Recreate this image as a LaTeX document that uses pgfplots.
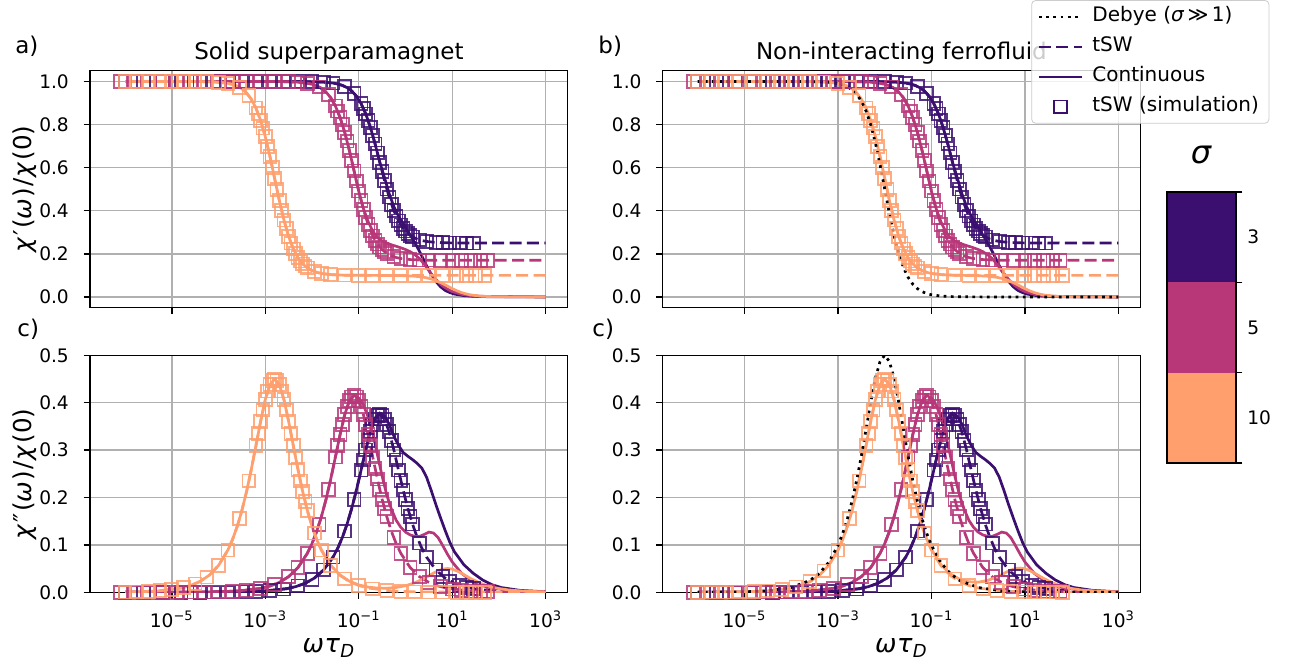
\documentclass[border=0pt]{standalone}
\usepackage{fontspec}
\setmainfont{DejaVu Sans}[ItalicFont={DejaVu Sans Oblique}]
\usepackage{pgfplots}
\usepackage{pgfplotstable}
\pgfplotsset{compat=1.18}
\definecolor{cA}{HTML}{3B0F70}
\definecolor{cB}{HTML}{B73779}
\definecolor{cC}{HTML}{FE9F6D}
\definecolor{gridc}{HTML}{B0B0B0}
\definecolor{legc}{HTML}{CCCCCC}

\pgfplotstableread{
L re im
-6.00 1.0000 0.0000
-4.55 1.0000 0.0001
-3.55 1.0000 0.0008
-3.05 1.0000 0.0024
-2.55 0.9999 0.0075
-2.35 0.9998 0.0119
-2.15 0.9995 0.0188
-1.95 0.9988 0.0299
-1.75 0.9970 0.0472
-1.55 0.9926 0.0743
-1.45 0.9883 0.0929
-1.35 0.9816 0.1160
-1.25 0.9713 0.1439
-1.15 0.9555 0.1772
-1.05 0.9318 0.2156
-0.95 0.8974 0.2577
-0.85 0.8494 0.3005
-0.75 0.7865 0.3386
-0.65 0.7098 0.3652
-0.55 0.6250 0.3750
-0.45 0.5402 0.3652
-0.35 0.4635 0.3386
-0.25 0.4006 0.3005
-0.15 0.3526 0.2577
-0.05 0.3182 0.2156
0.05 0.2946 0.1772
0.15 0.2787 0.1439
0.25 0.2684 0.1160
0.35 0.2617 0.0929
0.45 0.2574 0.0743
0.65 0.2530 0.0472
0.85 0.2512 0.0299
1.05 0.2505 0.0188
1.25 0.2502 0.0119
1.45 0.2501 0.0075
1.95 0.2500 0.0024
2.45 0.2500 0.0008
3.00 0.2500 0.0002
}\tswP
\pgfplotstableread{
L re im
-6.00 1.0000 0.0000
-4.55 1.0000 0.0001
-3.55 1.0000 0.0008
-3.05 1.0000 0.0024
-2.55 0.9999 0.0075
-2.35 0.9998 0.0119
-2.15 0.9995 0.0188
-1.95 0.9988 0.0299
-1.75 0.9970 0.0472
-1.55 0.9926 0.0743
-1.45 0.9883 0.0929
-1.35 0.9816 0.1160
-1.25 0.9713 0.1439
-1.15 0.9555 0.1772
-1.05 0.9318 0.2156
-0.95 0.8974 0.2577
-0.85 0.8494 0.3005
-0.75 0.7865 0.3400
-0.65 0.7098 0.3680
-0.55 0.6250 0.3780
-0.45 0.5550 0.3720
-0.35 0.4800 0.3550
-0.25 0.4200 0.3300
-0.15 0.3750 0.3100
-0.05 0.3400 0.2950
0.05 0.3050 0.2870
0.15 0.2700 0.2800
0.25 0.2320 0.2720
0.35 0.1900 0.2620
0.45 0.1450 0.2430
0.55 0.1050 0.2150
0.65 0.0720 0.1850
0.75 0.0470 0.1570
0.85 0.0300 0.1300
0.95 0.0200 0.1050
1.05 0.0130 0.0850
1.25 0.0060 0.0580
1.45 0.0030 0.0400
1.65 0.0015 0.0260
1.85 0.0008 0.0160
2.05 0.0005 0.0100
2.45 0.0002 0.0040
3.00 0.0000 0.0010
}\contP
\pgfplotstableread{
L re im
-6.00 1.0000 0.0000
-5.60 1.0000 0.0000
-5.20 1.0000 0.0000
-4.80 1.0000 0.0000
-4.40 1.0000 0.0001
-4.10 1.0000 0.0002
-3.80 1.0000 0.0004
-3.50 1.0000 0.0008
-3.20 1.0000 0.0017
-2.90 1.0000 0.0034
-2.60 0.9999 0.0067
-2.30 0.9998 0.0133
-2.00 0.9991 0.0266
-1.75 0.9970 0.0472
-1.55 0.9926 0.0743
-1.30 0.9771 0.1293
-1.10 0.9448 0.1958
-0.95 0.8974 0.2577
-0.90 0.8753 0.2793
-0.85 0.8494 0.3005
-0.80 0.8198 0.3204
-0.75 0.7865 0.3386
-0.70 0.7496 0.3539
-0.65 0.7098 0.3652
-0.60 0.6680 0.3725
-0.55 0.6250 0.3750
-0.50 0.5820 0.3725
-0.45 0.5402 0.3652
-0.40 0.5004 0.3539
-0.35 0.4635 0.3386
-0.30 0.4302 0.3204
-0.25 0.4006 0.3005
-0.20 0.3747 0.2793
-0.15 0.3526 0.2577
-0.10 0.3339 0.2363
-0.05 0.3182 0.2156
0.00 0.3052 0.1958
0.05 0.2946 0.1772
0.10 0.2858 0.1599
0.15 0.2787 0.1439
0.30 0.2647 0.1039
0.45 0.2574 0.0743
0.65 0.2530 0.0472
0.80 0.2514 0.0335
0.95 0.2508 0.0237
1.15 0.2503 0.0149
1.30 0.2502 0.0106
1.45 0.2501 0.0075
}\sqP
\pgfplotstableread{
L re im
-6.0 1.0000 0.0000
-5.1 1.0000 0.0001
-4.1 1.0000 0.0008
-3.6 1.0000 0.0026
-3.1 0.9999 0.0083
-2.9 0.9998 0.0132
-2.7 0.9995 0.0208
-2.5 0.9987 0.0330
-2.3 0.9967 0.0522
-2.1 0.9918 0.0822
-2.0 0.9871 0.1028
-1.9 0.9797 0.1283
-1.8 0.9682 0.1593
-1.7 0.9507 0.1961
-1.6 0.9246 0.2386
-1.5 0.8865 0.2852
-1.4 0.8333 0.3325
-1.3 0.7637 0.3747
-1.2 0.6789 0.4041
-1.1 0.5850 0.4150
-1.0 0.4911 0.4041
-0.9 0.4063 0.3747
-0.8 0.3367 0.3325
-0.7 0.2835 0.2852
-0.6 0.2454 0.2386
-0.5 0.2193 0.1961
-0.4 0.2018 0.1593
-0.3 0.1903 0.1283
-0.2 0.1829 0.1028
-0.1 0.1782 0.0822
0.1 0.1733 0.0522
0.3 0.1713 0.0330
0.5 0.1705 0.0208
0.7 0.1702 0.0132
0.9 0.1701 0.0083
1.4 0.1700 0.0026
1.9 0.1700 0.0008
3.0 0.1700 0.0001
}\tswM
\pgfplotstableread{
L re im
-6.0 1.0000 0.0000
-5.1 1.0000 0.0001
-4.1 1.0000 0.0008
-3.6 1.0000 0.0026
-3.1 0.9999 0.0083
-2.9 0.9998 0.0132
-2.7 0.9995 0.0208
-2.5 0.9987 0.0330
-2.3 0.9967 0.0522
-2.1 0.9918 0.0822
-2.0 0.9871 0.1028
-1.9 0.9797 0.1283
-1.8 0.9682 0.1593
-1.7 0.9507 0.1961
-1.6 0.9246 0.2386
-1.5 0.8865 0.2852
-1.4 0.8333 0.3325
-1.3 0.7637 0.3747
-1.2 0.6789 0.4041
-1.1 0.5850 0.4150
-1.0 0.4900 0.4100
-0.9 0.4100 0.3950
-0.8 0.3500 0.3700
-0.7 0.3050 0.3350
-0.6 0.2750 0.2900
-0.5 0.2600 0.2450
-0.4 0.2500 0.2050
-0.3 0.2420 0.1750
-0.2 0.2350 0.1520
-0.1 0.2280 0.1370
0.0 0.2200 0.1270
0.1 0.2100 0.1210
0.2 0.1960 0.1180
0.3 0.1780 0.1180
0.4 0.1520 0.1220
0.5 0.1220 0.1270
0.6 0.0940 0.1250
0.7 0.0690 0.1150
0.8 0.0500 0.0980
0.9 0.0360 0.0800
1.0 0.0250 0.0640
1.2 0.0120 0.0400
1.4 0.0060 0.0250
1.6 0.0030 0.0150
1.8 0.0020 0.0100
2.2 0.0010 0.0040
3.0 0.0000 0.0010
}\contM
\pgfplotstableread{
L re im
-6.10 1.0000 0.0000
-5.80 1.0000 0.0000
-5.50 1.0000 0.0000
-5.20 1.0000 0.0001
-4.90 1.0000 0.0001
-4.60 1.0000 0.0003
-4.30 1.0000 0.0005
-4.00 1.0000 0.0010
-3.70 1.0000 0.0021
-3.40 1.0000 0.0042
-3.10 0.9999 0.0083
-2.80 0.9996 0.0166
-2.50 0.9987 0.0330
-2.30 0.9967 0.0522
-2.10 0.9918 0.0822
-1.85 0.9746 0.1431
-1.65 0.9389 0.2167
-1.50 0.8865 0.2852
-1.45 0.8620 0.3091
-1.40 0.8333 0.3325
-1.35 0.8006 0.3546
-1.30 0.7637 0.3747
-1.25 0.7229 0.3916
-1.20 0.6789 0.4041
-1.15 0.6326 0.4123
-1.10 0.5850 0.4150
-1.05 0.5374 0.4123
-1.00 0.4911 0.4041
-0.95 0.4471 0.3916
-0.90 0.4063 0.3747
-0.85 0.3694 0.3546
-0.80 0.3367 0.3325
-0.75 0.3080 0.3091
-0.70 0.2835 0.2852
-0.65 0.2628 0.2615
-0.60 0.2454 0.2386
-0.55 0.2311 0.2167
-0.50 0.2193 0.1961
-0.45 0.2096 0.1770
-0.40 0.2018 0.1593
-0.25 0.1863 0.1150
-0.10 0.1782 0.0822
0.10 0.1733 0.0522
0.30 0.1713 0.0330
0.50 0.1705 0.0208
0.75 0.1702 0.0117
1.00 0.1701 0.0066
1.20 0.1700 0.0042
1.40 0.1700 0.0026
1.60 0.1700 0.0017
1.75 0.1700 0.0012
}\sqM
\pgfplotstableread{
L re im
-6.0 1.0000 0.0006
-5.8 1.0000 0.0009
-5.3 1.0000 0.0028
-4.8 0.9999 0.0090
-4.6 0.9998 0.0143
-4.4 0.9994 0.0226
-4.2 0.9986 0.0358
-4.0 0.9964 0.0566
-3.8 0.9911 0.0891
-3.7 0.9860 0.1115
-3.6 0.9780 0.1391
-3.5 0.9655 0.1727
-3.4 0.9465 0.2127
-3.3 0.9182 0.2588
-3.2 0.8769 0.3092
-3.1 0.8193 0.3605
-3.0 0.7438 0.4063
-2.9 0.6518 0.4382
-2.8 0.5500 0.4500
-2.7 0.4482 0.4382
-2.6 0.3562 0.4063
-2.5 0.2807 0.3605
-2.4 0.2231 0.3092
-2.3 0.1818 0.2588
-2.2 0.1535 0.2127
-2.1 0.1345 0.1727
-2.0 0.1221 0.1391
-1.9 0.1140 0.1115
-1.8 0.1089 0.0891
-1.6 0.1036 0.0566
-1.4 0.1014 0.0358
-1.2 0.1006 0.0226
-1.0 0.1002 0.0143
-0.8 0.1001 0.0090
-0.3 0.1000 0.0028
0.2 0.1000 0.0009
1.2 0.1000 0.0001
3.0 0.1000 0.0000
}\tswOa
\pgfplotstableread{
L re im
-6.0 1.0000 0.0006
-5.8 1.0000 0.0009
-5.3 1.0000 0.0028
-4.8 0.9999 0.0090
-4.6 0.9998 0.0143
-4.4 0.9994 0.0226
-4.2 0.9986 0.0358
-4.0 0.9964 0.0566
-3.8 0.9911 0.0891
-3.7 0.9860 0.1115
-3.6 0.9780 0.1391
-3.5 0.9655 0.1727
-3.4 0.9465 0.2127
-3.3 0.9182 0.2588
-3.2 0.8769 0.3092
-3.1 0.8193 0.3605
-3.0 0.7438 0.4063
-2.9 0.6518 0.4382
-2.8 0.5500 0.4500
-2.7 0.4482 0.4382
-2.6 0.3562 0.4063
-2.5 0.2807 0.3605
-2.4 0.2231 0.3092
-2.3 0.1818 0.2588
-2.2 0.1535 0.2127
-2.1 0.1345 0.1727
-2.0 0.1221 0.1391
-1.9 0.1140 0.1115
-1.8 0.1089 0.0893
-1.6 0.1036 0.0569
-1.4 0.1014 0.0363
-1.2 0.1006 0.0234
-1.0 0.1002 0.0156
-0.8 0.1001 0.0110
-0.6 0.0999 0.0089
-0.4 0.0997 0.0086
-0.2 0.0994 0.0102
0.0 0.0984 0.0138
0.2 0.0962 0.0201
0.4 0.0909 0.0294
0.5 0.0863 0.0349
0.6 0.0799 0.0405
0.7 0.0715 0.0454
0.8 0.0613 0.0490
0.9 0.0500 0.0502
1.0 0.0387 0.0489
1.1 0.0285 0.0451
1.2 0.0201 0.0401
1.3 0.0137 0.0344
1.4 0.0091 0.0288
1.6 0.0038 0.0192
1.8 0.0016 0.0124
2.0 0.0006 0.0079
2.2 0.0003 0.0050
2.5 0.0001 0.0025
3.0 0.0000 0.0008
}\contOa
\pgfplotstableread{
L re im
-6.00 1.0000 0.0006
-5.75 1.0000 0.0010
-5.50 1.0000 0.0018
-5.25 1.0000 0.0032
-5.00 1.0000 0.0057
-4.75 0.9999 0.0101
-4.50 0.9996 0.0179
-4.25 0.9989 0.0319
-4.00 0.9964 0.0566
-3.80 0.9911 0.0891
-3.55 0.9725 0.1552
-3.35 0.9338 0.2350
-3.20 0.8769 0.3092
-3.15 0.8503 0.3352
-3.10 0.8193 0.3605
-3.05 0.7837 0.3845
-3.00 0.7438 0.4063
-2.95 0.6995 0.4246
-2.90 0.6518 0.4382
-2.85 0.6016 0.4470
-2.80 0.5500 0.4500
-2.75 0.4984 0.4470
-2.70 0.4482 0.4382
-2.65 0.4005 0.4246
-2.60 0.3562 0.4063
-2.55 0.3163 0.3845
-2.50 0.2807 0.3605
-2.45 0.2497 0.3352
-2.40 0.2231 0.3092
-2.35 0.2006 0.2836
-2.30 0.1818 0.2588
-2.25 0.1662 0.2350
-2.20 0.1535 0.2127
-2.15 0.1429 0.1919
-2.10 0.1345 0.1727
-1.95 0.1176 0.1247
-1.80 0.1089 0.0891
-1.60 0.1036 0.0566
-1.30 0.1009 0.0284
-1.00 0.1002 0.0143
-0.70 0.1001 0.0071
-0.40 0.1000 0.0036
-0.10 0.1000 0.0018
0.20 0.1000 0.0009
0.50 0.1000 0.0005
0.80 0.1000 0.0002
1.10 0.1000 0.0001
1.30 0.1000 0.0001
1.50 0.1000 0.0000
1.70 0.1000 0.0000
}\sqOa
\pgfplotstableread{
L re im
-6.0 1.0000 0.0001
-5.2 1.0000 0.0006
-5.0 1.0000 0.0009
-4.5 1.0000 0.0028
-4.0 0.9999 0.0090
-3.8 0.9998 0.0143
-3.6 0.9994 0.0226
-3.4 0.9986 0.0358
-3.2 0.9964 0.0566
-3.0 0.9911 0.0891
-2.9 0.9860 0.1115
-2.8 0.9780 0.1391
-2.7 0.9655 0.1727
-2.6 0.9465 0.2127
-2.5 0.9182 0.2588
-2.4 0.8769 0.3092
-2.3 0.8193 0.3605
-2.2 0.7438 0.4063
-2.1 0.6518 0.4382
-2.0 0.5500 0.4500
-1.9 0.4482 0.4382
-1.8 0.3562 0.4063
-1.7 0.2807 0.3605
-1.6 0.2231 0.3092
-1.5 0.1818 0.2588
-1.4 0.1535 0.2127
-1.3 0.1345 0.1727
-1.2 0.1221 0.1391
-1.1 0.1140 0.1115
-1.0 0.1089 0.0891
-0.8 0.1036 0.0566
-0.6 0.1014 0.0358
-0.4 0.1006 0.0226
-0.2 0.1002 0.0143
0.0 0.1001 0.0090
0.5 0.1000 0.0028
1.0 0.1000 0.0009
2.0 0.1000 0.0001
3.0 0.1000 0.0000
}\tswOb
\pgfplotstableread{
L re im
-6.0 1.0000 0.0001
-5.2 1.0000 0.0006
-5.0 1.0000 0.0009
-4.5 1.0000 0.0028
-4.0 0.9999 0.0090
-3.8 0.9998 0.0143
-3.6 0.9994 0.0226
-3.4 0.9986 0.0358
-3.2 0.9964 0.0566
-3.0 0.9911 0.0891
-2.9 0.9860 0.1115
-2.8 0.9780 0.1391
-2.7 0.9655 0.1727
-2.6 0.9465 0.2127
-2.5 0.9182 0.2588
-2.4 0.8769 0.3092
-2.3 0.8193 0.3605
-2.2 0.7438 0.4063
-2.1 0.6518 0.4382
-2.0 0.5500 0.4500
-1.9 0.4482 0.4382
-1.8 0.3562 0.4063
-1.7 0.2807 0.3605
-1.6 0.2231 0.3092
-1.5 0.1818 0.2588
-1.4 0.1535 0.2127
-1.3 0.1345 0.1727
-1.2 0.1221 0.1391
-1.1 0.1140 0.1115
-1.0 0.1089 0.0904
-0.8 0.1036 0.0586
-0.6 0.1013 0.0390
-0.4 0.1003 0.0276
-0.2 0.0996 0.0222
0.0 0.0985 0.0214
0.2 0.0962 0.0249
0.4 0.0909 0.0324
0.5 0.0863 0.0372
0.6 0.0799 0.0424
0.7 0.0715 0.0469
0.8 0.0613 0.0501
0.9 0.0500 0.0511
1.0 0.0387 0.0496
1.1 0.0285 0.0458
1.2 0.0201 0.0407
1.3 0.0137 0.0349
1.4 0.0091 0.0292
1.6 0.0038 0.0195
1.8 0.0016 0.0126
2.0 0.0006 0.0080
2.2 0.0003 0.0050
2.5 0.0001 0.0025
3.0 0.0000 0.0008
}\contOb
\pgfplotstableread{
L re im
-6.00 1.0000 0.0001
-5.70 1.0000 0.0002
-5.40 1.0000 0.0004
-5.10 1.0000 0.0007
-4.80 1.0000 0.0014
-4.50 1.0000 0.0028
-4.20 1.0000 0.0057
-3.90 0.9999 0.0113
-3.60 0.9994 0.0226
-3.30 0.9977 0.0450
-3.00 0.9911 0.0891
-2.75 0.9725 0.1552
-2.55 0.9338 0.2350
-2.40 0.8769 0.3092
-2.35 0.8503 0.3352
-2.30 0.8193 0.3605
-2.25 0.7837 0.3845
-2.20 0.7438 0.4063
-2.15 0.6995 0.4246
-2.10 0.6518 0.4382
-2.05 0.6016 0.4470
-2.00 0.5500 0.4500
-1.95 0.4984 0.4470
-1.90 0.4482 0.4382
-1.85 0.4005 0.4246
-1.80 0.3562 0.4063
-1.75 0.3163 0.3845
-1.70 0.2807 0.3605
-1.65 0.2497 0.3352
-1.60 0.2231 0.3092
-1.55 0.2006 0.2836
-1.50 0.1818 0.2588
-1.45 0.1662 0.2350
-1.40 0.1535 0.2127
-1.35 0.1429 0.1919
-1.30 0.1345 0.1727
-1.15 0.1176 0.1247
-1.00 0.1089 0.0891
-0.80 0.1036 0.0566
-0.50 0.1009 0.0284
-0.20 0.1002 0.0143
0.10 0.1001 0.0071
0.40 0.1000 0.0036
0.70 0.1000 0.0018
1.00 0.1000 0.0009
1.20 0.1000 0.0005
1.40 0.1000 0.0003
1.60 0.1000 0.0002
1.80 0.1000 0.0001
}\sqOb
\pgfplotstableread{
L re im
-6.0 1.0000 0.0001
-5.0 1.0000 0.0010
-4.5 1.0000 0.0032
-4.0 0.9999 0.0100
-3.6 0.9994 0.0251
-3.4 0.9984 0.0398
-3.2 0.9960 0.0629
-3.0 0.9901 0.0990
-2.9 0.9844 0.1239
-2.8 0.9755 0.1546
-2.7 0.9617 0.1919
-2.6 0.9406 0.2363
-2.5 0.9091 0.2875
-2.4 0.8632 0.3436
-2.3 0.7992 0.4006
-2.2 0.7153 0.4514
-2.1 0.6131 0.4869
-2.0 0.5000 0.5000
-1.9 0.3869 0.4869
-1.8 0.2847 0.4514
-1.7 0.2008 0.4006
-1.6 0.1368 0.3436
-1.5 0.0909 0.2875
-1.4 0.0594 0.2363
-1.3 0.0383 0.1919
-1.2 0.0245 0.1546
-1.1 0.0156 0.1239
-1.0 0.0099 0.0990
-0.8 0.0040 0.0629
-0.6 0.0016 0.0398
-0.4 0.0006 0.0251
0.0 0.0001 0.0100
0.5 0.0000 0.0032
1.0 0.0000 0.0010
2.0 0.0000 0.0001
3.0 0.0000 0.0000
}\debye

\pgfplotsset{
  panel/.style={
    scale only axis, width=238.85pt, height=118.5pt, anchor=south west,
    xmin=-6.75, xmax=3.47,
    xtick={-5,-3,-1,1,3},
    tick pos=left, tick align=outside,
    major tick length=3.15pt,
    tick style={black, line width=0.72pt},
    axis line style={line width=0.72pt},
    grid=major, major grid style={draw=gridc, line width=0.72pt},
    tick label style={font=\fontsize{9.3}{11}\selectfont},
    yticklabel style={xshift=-3.9pt},
    xticklabel style={yshift=-2.5pt},
    /pgf/number format/assume math mode=true,
    yticklabel={\pgfmathprintnumber[fixed,fixed zerofill,precision=1]{\tick}},
  },
  tsw/.style={dash pattern=on 6pt off 2.7pt, line width=1.35pt},
  cont/.style={solid, line width=1.35pt},
  sq/.style={only marks, mark=square, mark size=3.2pt, mark options={line width=0.9pt, solid}, opacity=0.85},
  deb/.style={black, dash pattern=on 1.35pt off 2.25pt, line width=1.35pt},
  legend image code/.code={\draw[#1] (0pt,0pt) -- (21.5pt,0pt);},
}

\begin{document}
\begin{tikzpicture}
\useasboundingbox (0,0) rectangle (649pt,334pt);
\node[anchor=base, inner sep=0, font=\fontsize{11.5}{13.5}\selectfont] at (164.45pt,304.3pt) {Solid superparamagnet};
\node[anchor=base, inner sep=0, font=\fontsize{11.5}{13.5}\selectfont] at (450.7pt,304.3pt) {Non-interacting ferrofluid};
\node[anchor=base west, inner sep=0, font=\fontsize{11.5}{13.5}\selectfont] at (7.5pt,307.3pt) {a)};
\node[anchor=base west, inner sep=0, font=\fontsize{11.5}{13.5}\selectfont] at (299pt,307.3pt) {b)};
\node[anchor=base west, inner sep=0, font=\fontsize{11.5}{13.5}\selectfont] at (8.5pt,165.5pt) {c)};
\node[anchor=base west, inner sep=0, font=\fontsize{11.5}{13.5}\selectfont] at (296pt,165.5pt) {c)};
\node[rotate=90, inner sep=0, font=\fontsize{12.3}{14}\selectfont] at (12.5pt,239.5pt) {\textit{χ}\kern0.8pt′\kern0.5pt(\textit{ω}\kern0.6pt)\kern0.6pt/\kern0.6pt\textit{χ}\kern0.8pt(0)};
\node[rotate=90, inner sep=0, font=\fontsize{12.3}{14}\selectfont] at (12.5pt,97.1pt) {\textit{χ}\kern0.8pt″\kern0.5pt(\textit{ω}\kern0.6pt)\kern0.6pt/\kern0.6pt\textit{χ}\kern0.8pt(0)};
\node[anchor=base, inner sep=0, font=\fontsize{12.8}{15}\selectfont] at (164.45pt,7.5pt) {\textit{ω}\kern0.3pt\textit{τ}\textsubscript{\textit{D}}};
\node[anchor=base, inner sep=0, font=\fontsize{12.8}{15}\selectfont] at (450.7pt,7.5pt) {\textit{ω}\kern0.3pt\textit{τ}\textsubscript{\textit{D}}};
\node[inner sep=0, font=\fontsize{16}{19}\selectfont] at (600.75pt,256.5pt) {\textit{σ}};

\begin{axis}[panel, at={(45pt,180.15pt)}, ymin=-0.05, ymax=1.05, ytick={0,0.2,0.4,0.6,0.8,1}, xticklabels={}]
\addplot[tsw,cA] table[x=L,y=re]{\tswP};
\addplot[cont,cA] table[x=L,y=re]{\contP};
\addplot[sq,cA] table[x=L,y=re]{\sqP};
\addplot[tsw,cB] table[x=L,y=re]{\tswM};
\addplot[cont,cB] table[x=L,y=re]{\contM};
\addplot[sq,cB] table[x=L,y=re]{\sqM};
\addplot[tsw,cC] table[x=L,y=re]{\tswOa};
\addplot[cont,cC] table[x=L,y=re]{\contOa};
\addplot[sq,cC] table[x=L,y=re]{\sqOa};
\end{axis}

\begin{axis}[panel, at={(331.35pt,180.15pt)}, ymin=-0.05, ymax=1.05, ytick={0,0.2,0.4,0.6,0.8,1}, xticklabels={},
  legend cell align=left,
  legend style={at={(0.7716,1.298)}, anchor=north west, draw=legc, fill=white, fill opacity=0.8, text opacity=1,
    rounded corners=2pt, font=\fontsize{10}{12}\selectfont, row sep=1pt, column sep=2.5pt, inner xsep=3pt, inner ysep=1.2pt,
    nodes={inner sep=2pt, text height=7.5pt, text depth=2.5pt}}]
\addlegendimage{black, dash pattern=on 1.35pt off 2.25pt, line width=1.35pt}
\addlegendentry{Debye (\textit{σ}\,≫\,1)}
\addlegendimage{cA, dash pattern=on 6pt off 2.7pt, line width=1.35pt}
\addlegendentry{tSW}
\addlegendimage{cA, solid, line width=1.35pt}
\addlegendentry{Continuous}
\addlegendimage{legend image code/.code={\draw[cA, line width=0.9pt, sharp corners] (7.55pt,-3.2pt) rectangle (13.95pt,3.2pt);}}
\addlegendentry{tSW (simulation)}
\addplot[tsw,cA] table[x=L,y=re]{\tswP};
\addplot[cont,cA] table[x=L,y=re]{\contP};
\addplot[sq,cA] table[x=L,y=re]{\sqP};
\addplot[tsw,cB] table[x=L,y=re]{\tswM};
\addplot[cont,cB] table[x=L,y=re]{\contM};
\addplot[sq,cB] table[x=L,y=re]{\sqM};
\addplot[tsw,cC] table[x=L,y=re]{\tswOb};
\addplot[cont,cC] table[x=L,y=re]{\contOb};
\addplot[sq,cC] table[x=L,y=re]{\sqOb};
\addplot[deb] table[x=L,y=re]{\debye};
\end{axis}

\begin{axis}[panel, at={(45pt,37.85pt)}, ymin=0, ymax=0.5, ytick={0,0.1,0.2,0.3,0.4,0.5},
  xticklabels={10\textsuperscript{−5},10\textsuperscript{−3},10\textsuperscript{−1},10\textsuperscript{1},10\textsuperscript{3}}]
\addplot[tsw,cA] table[x=L,y=im]{\tswP};
\addplot[cont,cA] table[x=L,y=im]{\contP};
\addplot[sq,cA] table[x=L,y=im]{\sqP};
\addplot[tsw,cB] table[x=L,y=im]{\tswM};
\addplot[cont,cB] table[x=L,y=im]{\contM};
\addplot[sq,cB] table[x=L,y=im]{\sqM};
\addplot[tsw,cC] table[x=L,y=im]{\tswOa};
\addplot[cont,cC] table[x=L,y=im]{\contOa};
\addplot[sq,cC] table[x=L,y=im]{\sqOa};
\end{axis}

\begin{axis}[panel, at={(331.35pt,37.85pt)}, ymin=0, ymax=0.5, ytick={0,0.1,0.2,0.3,0.4,0.5},
  xticklabels={10\textsuperscript{−5},10\textsuperscript{−3},10\textsuperscript{−1},10\textsuperscript{1},10\textsuperscript{3}}]
\addplot[tsw,cA] table[x=L,y=im]{\tswP};
\addplot[cont,cA] table[x=L,y=im]{\contP};
\addplot[sq,cA] table[x=L,y=im]{\sqP};
\addplot[tsw,cB] table[x=L,y=im]{\tswM};
\addplot[cont,cB] table[x=L,y=im]{\contM};
\addplot[sq,cB] table[x=L,y=im]{\sqM};
\addplot[tsw,cC] table[x=L,y=im]{\tswOb};
\addplot[cont,cC] table[x=L,y=im]{\contOb};
\addplot[sq,cC] table[x=L,y=im]{\sqOb};
\addplot[deb] table[x=L,y=im]{\debye};
\end{axis}

\begin{axis}[at={(583.5pt,102.5pt)}, anchor=south west, scale only axis, width=34.5pt, height=135.5pt,
  xmin=0, xmax=1, ymin=0, ymax=3, xtick=\empty, clip=false,
  ytick={0,1,2,3}, yticklabels={}, ytick pos=right, yticklabel pos=right,
  tick align=outside, major tick length=3.15pt, tick style={black, line width=0.72pt},
  axis line style={line width=0.72pt}, axis on top]
\addplot[fill=cC, draw=none] coordinates {(0,0) (1,0) (1,1) (0,1)};
\addplot[fill=cB, draw=none] coordinates {(0,1) (1,1) (1,2) (0,2)};
\addplot[fill=cA, draw=none] coordinates {(0,2) (1,2) (1,3) (0,3)};
\node[anchor=west, inner sep=0, font=\fontsize{9.3}{11}\selectfont, xshift=5.5pt] at (axis cs:1,0.5) {10};
\node[anchor=west, inner sep=0, font=\fontsize{9.3}{11}\selectfont, xshift=5.5pt] at (axis cs:1,1.5) {5};
\node[anchor=west, inner sep=0, font=\fontsize{9.3}{11}\selectfont, xshift=5.5pt] at (axis cs:1,2.5) {3};
\end{axis}
\end{tikzpicture}
\end{document}
